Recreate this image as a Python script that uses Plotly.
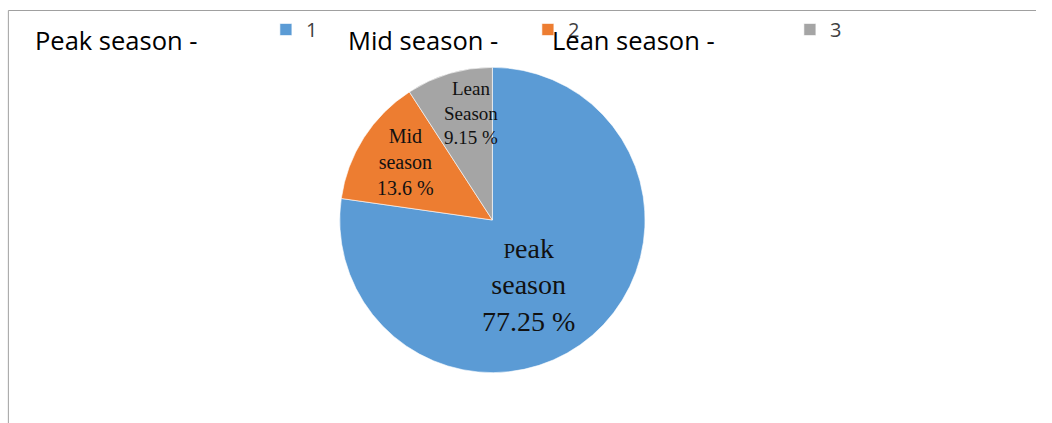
import plotly.graph_objects as go

W, H = 1052, 423

legend_names = ["1", "2", "3"]
values = [77.25, 13.6, 9.15]
colors = ["#5B9BD5", "#ED7D31", "#A5A5A5"]
slice_labels = [
    "<span style='font-size:21px'>P</span>eak<br>season<br>77.25 %",
    "Mid<br>season<br>13.6 %",
    "Lean<br>Season<br>9.15 %",
]
header_texts = ["Peak season -", "Mid season -", "Lean season -"]


def px(x):
    return x / W


def py(y):
    return 1 - y / H


fig = go.Figure()
fig.add_trace(go.Pie(
    labels=legend_names,
    values=values,
    sort=False,
    direction="clockwise",
    rotation=0,
    marker=dict(colors=colors, line=dict(color="white", width=0.6)),
    textinfo="none",
    hoverinfo="label+value",
    domain=dict(x=[px(345), px(655)], y=[py(375), py(65)]),
    showlegend=True,
))

# slice labels
label_pos = [(537, 285, 28), (412, 162, 20), (478, 113, 19)]
for txt, (x, y, fs) in zip(slice_labels, label_pos):
    fig.add_annotation(
        x=px(x), y=py(y), xref="paper", yref="paper",
        text=txt, showarrow=False, xanchor="center", yanchor="middle",
        font=dict(family="Liberation Serif", size=fs, color="#111111"),
        align="center",
    )

# header texts
header_x = [34, 351, 559]
for txt, x in zip(header_texts, header_x):
    fig.add_annotation(
        x=px(x), y=py(40), xref="paper", yref="paper",
        text=txt, showarrow=False, xanchor="left", yanchor="middle",
        font=dict(family="Open Sans", size=25.5, color="#000000"),
    )

# frame
fig.add_shape(type="line", xref="paper", yref="paper",
              x0=px(8.5), x1=1, y0=py(10.5), y1=py(10.5),
              line=dict(color="#A0A0A0", width=1))
fig.add_shape(type="line", xref="paper", yref="paper",
              x0=px(8.5), x1=px(8.5), y0=py(10.5), y1=0,
              line=dict(color="#A0A0A0", width=1))

fig.update_layout(
    width=W, height=H,
    margin=dict(l=0, r=0, t=0, b=0),
    paper_bgcolor="white",
    plot_bgcolor="white",
    legend=dict(
        orientation="h",
        x=px(270), y=py(10), xanchor="left", yanchor="top",
        entrywidth=217, entrywidthmode="pixels",
        font=dict(family="Open Sans", size=20, color="#404040"),
        bgcolor="rgba(0,0,0,0)",
    ),
)

fig.write_html(
    "out.html",
    config={"displayModeBar": False},
    post_script="document.body.style.margin='0';document.body.style.overflow='hidden';",
)
